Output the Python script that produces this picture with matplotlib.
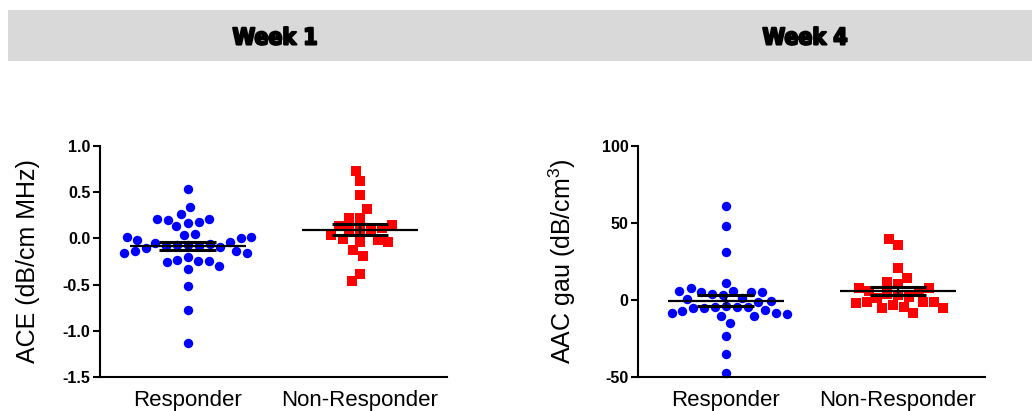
import numpy as np
import matplotlib
matplotlib.use("Agg")
import matplotlib.pyplot as plt
import matplotlib.patheffects as pe

plt.rcParams['font.family'] = ['Liberation Sans', 'DejaVu Sans']
plt.rcParams['mathtext.fontset'] = 'custom'
plt.rcParams['mathtext.rm'] = 'Liberation Sans'

groups = ["Responder", "Non-Responder"]
weeks = ["Week 1", "Week 4"]

# week 1, ACE
w1_responder = [0.53, 0.34,
                0.215, 0.20, 0.17, 0.18, 0.215, 0.265, 0.13,
                0.04, 0.015, 0.0, 0.02, 0.05,
                -0.02, -0.045, -0.04, -0.06,
                -0.07, -0.08, -0.09, -0.10, -0.08, -0.07,
                -0.14, -0.16, -0.16, -0.14,
                -0.23, -0.25, -0.30, -0.33, -0.26, -0.24, -0.20,
                -0.51, -0.77, -1.13]
w1_nonresponder = [0.73, 0.62, 0.47, 0.315, 0.22, 0.22, 0.11, 0.085, 0.04,
                   0.145, 0.13, 0.08, 0.09, -0.015, -0.035, -0.035, -0.01,
                   -0.13, -0.19, -0.38, -0.46]

# week 4, AAC gau
w4_responder = [61.0, 48.0, 31.4, 11.2, 8.0, 5.8, 5.4, 3.9, 5.1, 5.4, 5.8, 3.0,
                1.5, 0.5, -0.5, -1.5,
                -3.9, -4.4, -5.4, -6.5, -8.3, -9.3, -10.4, -15.1,
                -10.4, -8.7, -7.0, -5.4, -4.7, -4.7, -23.2, -35.1, -47.6]
w4_nonresponder = [39.8, 35.5, 21.0, 14.1, 11.7, 10.4, 7.6, 8.0, 6.0, 5.4,
                   4.0, 3.0, 2.0, 1.0,
                   -1.1, -1.1, -3.3, -5.4, -8.3, -5.4, -4.3, -1.8, -1.1]

panels = [
    (w1_responder, w1_nonresponder, (-1.5, 1.0), [-1.5, -1.0, -0.5, 0.0, 0.5, 1.0],
     ["-1.5", "-1.0", "-0.5", "0.0", "0.5", "1.0"], "ACE (dB/cm MHz)"),
    (w4_responder, w4_nonresponder, (-50, 100), [-50, 0, 50, 100],
     ["-50", "0", "50", "100"], "AAC gau (dB/cm$^3$)"),
]

W, H = 1032, 411
ax_w_px, ax_h_px = 347, 231
xlim = (-0.51, 1.505)


def swarm(vals, ypx, xpx, d=11.0):
    # greedy beeswarm in pixel space, points near the median go in first
    vals = np.asarray(vals, dtype=float)
    offsets = np.zeros(len(vals))
    placed = []
    med = np.median(vals)
    for i in np.argsort(np.abs(vals - med), kind="stable"):
        y = vals[i] * ypx
        near = [(px, py) for px, py in placed if abs(py - y) < d]
        cands = [0.0]
        for px, py in near:
            dx = np.sqrt(d * d - (py - y) ** 2)
            cands += [px - dx, px + dx]
        cands.sort(key=lambda c: (abs(c), c))
        for c in cands:
            if all((c - px) ** 2 + (y - py) ** 2 >= d * d - 1e-6 for px, py in near):
                offsets[i] = c
                break
        placed.append((offsets[i], y))
    return offsets / xpx


fig = plt.figure(figsize=(W / 100, H / 100), dpi=100)

# grey banner with week titles
banner = fig.add_axes([8 / W, 1 - 61 / H, 1 - 8 / W, 51 / H])
banner.set_facecolor("#d9d9d9")
banner.set_xticks([])
banner.set_yticks([])
for s in banner.spines.values():
    s.set_visible(False)
for wk, xc in zip(weeks, [275, 805]):
    fig.text(xc / W, 1 - 38 / H, wk, ha="center", va="center", fontsize=16.5,
             fontweight="bold", family=["DejaVu Sans"], fontstretch="condensed",
             path_effects=[pe.withStroke(linewidth=1.5, foreground="black")])

lefts = [100, 638]
ylabel_x = [40, 578]
for k, (resp, nonresp, ylim, yt, ytl, ylab) in enumerate(panels):
    ax = fig.add_axes([lefts[k] / W, 1 - 377 / H, ax_w_px / W, ax_h_px / H])
    ypx = ax_h_px / (ylim[1] - ylim[0])
    xpx = ax_w_px / (xlim[1] - xlim[0])
    for j, (vals, color, marker, size) in enumerate(
            [(resp, "#0000ff", "o", 46), (nonresp, "#ff0000", "s", 50)]):
        xs = j + swarm(vals, ypx, xpx)
        ax.scatter(xs, vals, s=size, marker=marker, color=color, linewidths=0,
                   zorder=2, clip_on=False)
        m = np.mean(vals)
        sem = np.std(vals, ddof=1) / np.sqrt(len(vals))
        ax.hlines(m, j - 0.335, j + 0.335, color="black", lw=1.6, zorder=3)
        ax.hlines([m - sem, m + sem], j - 0.165, j + 0.165, color="black", lw=2.2, zorder=3)
        ax.vlines(j, m - sem, m + sem, color="black", lw=1.6, zorder=3)
    ax.set_xlim(*xlim)
    ax.set_ylim(*ylim)
    ax.set_yticks(yt)
    ax.set_yticklabels(ytl, fontweight="bold", fontsize=11.5)
    ax.set_xticks([0, 1])
    ax.set_xticklabels(groups, fontsize=16)
    ax.tick_params(axis="x", length=0, pad=9)
    ax.tick_params(axis="y", length=5, width=1.5, pad=2, direction="out")
    for s in ["top", "right"]:
        ax.spines[s].set_visible(False)
    for s in ["left", "bottom"]:
        ax.spines[s].set_linewidth(1.5)
    ax.set_ylabel(ylab, fontsize=18)
    ax.yaxis.set_label_coords((ylabel_x[k] - lefts[k]) / ax_w_px, 0.5)

fig.savefig("out.png", dpi=100)
